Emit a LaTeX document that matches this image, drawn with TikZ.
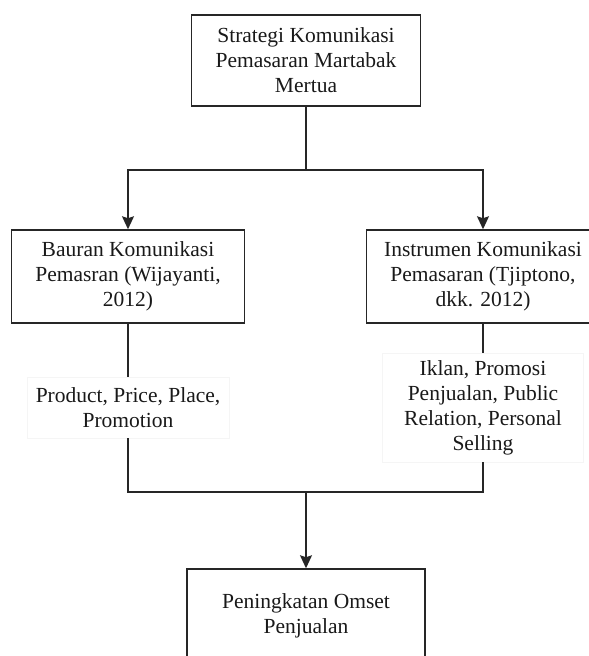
\documentclass[tikz,border=0pt]{standalone}
\usepackage{fontspec}
\setmainfont{Liberation Serif}
\usetikzlibrary{arrows.meta,positioning}
\tikzstyle{block} = [draw=black!85,line width=1.5pt,rectangle,align=center,inner sep=0,minimum width=233pt,minimum height=93pt,text=black!90,font=\fontsize{21.5}{25}\selectfont]
\tikzstyle{note} = [draw=black!4,thin,rectangle,align=center,inner sep=0,text=black!90,font=\fontsize{21.5}{25}\selectfont]
\tikzstyle{link} = [-,line width=1.5pt,draw=black!85]
\tikzstyle{arrow} = [link,-{Stealth[length=13pt,width=12pt,inset=2pt]}]

\begin{document}
\begin{tikzpicture}[x=1pt,y=-1pt]
      \useasboundingbox (0,0) rectangle (589,656);
      \clip (0,0) rectangle (589,656);
      \node[block,minimum width=229pt,minimum height=91pt] (strat) at (306,60.5) {Strategi Komunikasi\\Pemasaran Martabak\\Mertua};
      \node[block] (bauran) at (128,276.5) {Bauran Komunikasi\\Pemasran (Wijayanti,\\2012)};
      \node[block] (instr) at (483,276.5) {Instrumen Komunikasi\\Pemasaran (Tjiptono,\\dkk. 2012)};
      \node[note,minimum width=202pt,minimum height=61pt] (bnote) at (128,407.5) {Product, Price, Place,\\Promotion};
      \node[note,minimum width=201pt,minimum height=109pt] (inote) at (483,407.5) {Iklan, Promosi\\Penjualan, Public\\Relation, Personal\\Selling};
      \node[block,minimum width=238pt] (omset) at (306,615.5) {Peningkatan Omset\\Penjualan};
      \coordinate (split) at (306,170);
      \coordinate (join) at (306,492);
      \draw[link] (strat.south) -- (split);
      \draw[arrow] (split) -| (bauran.north);
      \draw[arrow] (split) -| (instr.north);
      \draw[link] (bauran.south) -- (bnote.north);
      \draw[link] (instr.south) -- (inote.north);
      \draw[link] (bnote.south) |- (join) -| (inote.south);
      \draw[arrow] (join) -- (omset.north);
    \end{tikzpicture}
\end{document}
